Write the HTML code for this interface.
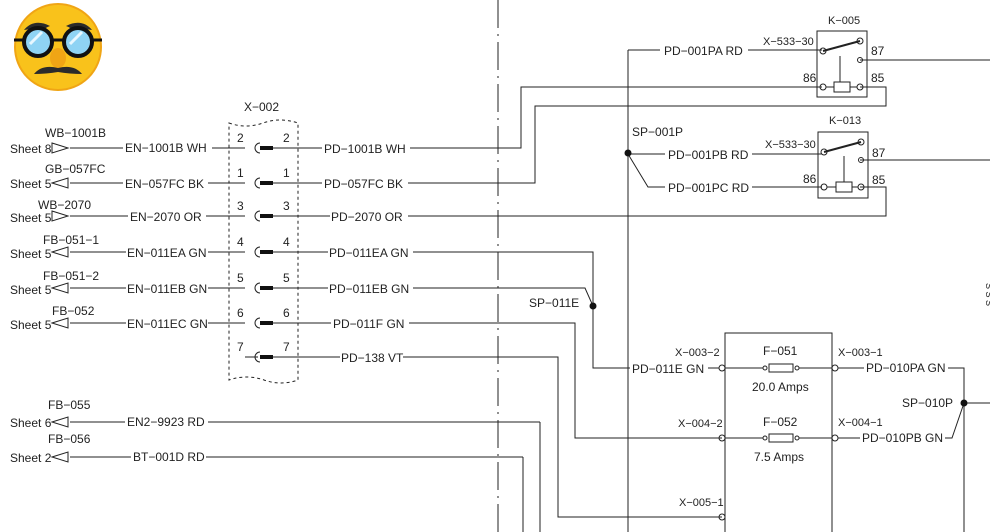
<!DOCTYPE html>
<html><head><meta charset="utf-8"><style>
html,body{margin:0;padding:0;background:#fff;}
svg{display:block;}
text{font-family:"Liberation Sans",sans-serif;font-size:12px;fill:#222;}
</style></head><body>
<svg width="990" height="532" viewBox="0 0 990 532" xmlns="http://www.w3.org/2000/svg">
<!-- emoji -->
<circle cx="58" cy="47" r="43" fill="#f9c21b"/>
<circle cx="58" cy="47" r="43" fill="none" stroke="#f0a515" stroke-width="2"/>
<path d="M24 30 q10 -12 26 -4 q-6 2 -8 6 q-8 -4 -18 -2z" fill="#2b2b2b"/>
<path d="M92 30 q-10 -12 -26 -4 q6 2 8 6 q8 -4 18 -2z" fill="#2b2b2b"/>
<ellipse cx="58" cy="58" rx="8" ry="10" fill="#f0a515"/>
<circle cx="38" cy="42" r="14" fill="#8fd3f4" stroke="#111" stroke-width="4"/>
<circle cx="78" cy="42" r="14" fill="#8fd3f4" stroke="#111" stroke-width="4"/>
<line x1="30" y1="44" x2="42" y2="32" stroke="#e8f7ff" stroke-width="3"/>
<line x1="70" y1="44" x2="82" y2="32" stroke="#e8f7ff" stroke-width="3"/>
<line x1="52" y1="40" x2="64" y2="40" stroke="#111" stroke-width="3"/>
<line x1="14" y1="40" x2="24" y2="40" stroke="#111" stroke-width="3"/>
<line x1="92" y1="40" x2="102" y2="40" stroke="#111" stroke-width="3"/>
<path d="M34 74 q8 -10 24 -6 q16 -4 24 6 q-12 0 -24 -2 q-12 2 -24 2z" fill="#2b2b2b"/>

<g stroke="#222" stroke-width="1" fill="none">
<!-- dash-dot vertical -->
<line x1="498" y1="0" x2="498" y2="532" stroke-dasharray="28,6,2,6"/>
<!-- X-002 dashed box -->
<path d="M229 123 q17 6 34 0 t35 0 V380 q-17 6 -34 0 t-35 0 Z" stroke-dasharray="3,3"/>
</g>
<text x="244" y="111">X−002</text>

<!-- left rows -->
<g stroke="#222" stroke-width="1" fill="none">
<!-- rows: wires from arrow to text, text to pin -->
<line x1="70" y1="148" x2="123" y2="148"/><line x1="212" y1="148" x2="245" y2="148"/>
<line x1="70" y1="183" x2="123" y2="183"/><line x1="208" y1="183" x2="245" y2="183"/>
<line x1="70" y1="216" x2="128" y2="216"/><line x1="206" y1="216" x2="245" y2="216"/>
<line x1="70" y1="252" x2="126" y2="252"/><line x1="208" y1="252" x2="245" y2="252"/>
<line x1="70" y1="288" x2="126" y2="288"/><line x1="208" y1="288" x2="245" y2="288"/>
<line x1="70" y1="323" x2="126" y2="323"/><line x1="208" y1="323" x2="245" y2="323"/>
<line x1="70" y1="422" x2="125" y2="422"/><line x1="208" y1="422" x2="540" y2="422"/><line x1="540" y1="422" x2="540" y2="532"/>
<line x1="70" y1="457" x2="131" y2="457"/><line x1="206" y1="457" x2="523" y2="457"/><line x1="523" y1="457" x2="523" y2="532"/>
<!-- arrows -->
<path d="M52 143 L68 148 L52 153 Z"/><path d="M52 211 L68 216 L52 221 Z"/>
<path d="M52 183 L68 178 L68 188 Z"/><path d="M52 252 L68 247 L68 257 Z"/>
<path d="M52 288 L68 283 L68 293 Z"/><path d="M52 323 L68 318 L68 328 Z"/>
<path d="M52 422 L68 417 L68 427 Z"/><path d="M52 457 L68 452 L68 462 Z"/>
</g>
<g>
<text x="10" y="153">Sheet 8</text><text x="45" y="137">WB−1001B</text><text x="125" y="152">EN−1001B WH</text>
<text x="10" y="188">Sheet 5</text><text x="45" y="173">GB−057FC</text><text x="125" y="188">EN−057FC BK</text>
<text x="10" y="222">Sheet 5</text><text x="38" y="209">WB−2070</text><text x="130" y="221">EN−2070 OR</text>
<text x="10" y="258">Sheet 5</text><text x="43" y="244">FB−051−1</text><text x="127" y="257">EN−011EA GN</text>
<text x="10" y="294">Sheet 5</text><text x="43" y="280">FB−051−2</text><text x="127" y="293">EN−011EB GN</text>
<text x="10" y="329">Sheet 5</text><text x="52" y="315">FB−052</text><text x="127" y="328">EN−011EC GN</text>
<text x="10" y="427">Sheet 6</text><text x="48" y="409">FB−055</text><text x="127" y="426">EN2−9923 RD</text>
<text x="10" y="462">Sheet 2</text><text x="48" y="443">FB−056</text><text x="133" y="461">BT−001D RD</text>
</g>

<!-- connector pins -->
<g stroke="#222" fill="none">
<g id="pins">
<path d="M260 143 a5 5 0 0 0 0 10"/><rect x="260" y="146" width="13" height="4" fill="#111" stroke="none"/><line x1="273" y1="148" x2="322" y2="148"/>
<path d="M260 178 a5 5 0 0 0 0 10"/><rect x="260" y="181" width="13" height="4" fill="#111" stroke="none"/><line x1="273" y1="183" x2="322" y2="183"/>
<path d="M260 211 a5 5 0 0 0 0 10"/><rect x="260" y="214" width="13" height="4" fill="#111" stroke="none"/><line x1="273" y1="216" x2="330" y2="216"/>
<path d="M260 247 a5 5 0 0 0 0 10"/><rect x="260" y="250" width="13" height="4" fill="#111" stroke="none"/><line x1="273" y1="252" x2="328" y2="252"/>
<path d="M260 283 a5 5 0 0 0 0 10"/><rect x="260" y="286" width="13" height="4" fill="#111" stroke="none"/><line x1="273" y1="288" x2="328" y2="288"/>
<path d="M260 318 a5 5 0 0 0 0 10"/><rect x="260" y="321" width="13" height="4" fill="#111" stroke="none"/><line x1="273" y1="323" x2="331" y2="323"/>
<path d="M260 352 a5 5 0 0 0 0 10"/><rect x="260" y="355" width="13" height="4" fill="#111" stroke="none"/><line x1="258" y1="357" x2="245" y2="357"/><line x1="273" y1="357" x2="340" y2="357"/>
</g>
</g>
<g style="font-size:11px">
<text x="237" y="142">2</text><text x="283" y="142">2</text>
<text x="237" y="177">1</text><text x="283" y="177">1</text>
<text x="237" y="210">3</text><text x="283" y="210">3</text>
<text x="237" y="246">4</text><text x="283" y="246">4</text>
<text x="237" y="282">5</text><text x="283" y="282">5</text>
<text x="237" y="317">6</text><text x="283" y="317">6</text>
<text x="237" y="351">7</text><text x="283" y="351">7</text>
</g>

<!-- PD wires -->
<g>
<text x="324" y="153">PD−1001B WH</text>
<text x="324" y="188">PD−057FC BK</text>
<text x="331" y="221">PD−2070 OR</text>
<text x="329" y="257">PD−011EA GN</text>
<text x="329" y="293">PD−011EB GN</text>
<text x="333" y="328">PD−011F GN</text>
<text x="341" y="362">PD−138 VT</text>
</g>
<g stroke="#222" stroke-width="1" fill="none">
<polyline points="410,148 521,148 521,87 822,87"/>
<polyline points="408,183 535,183 535,106 886,106 886,87 860,87"/>
<polyline points="408,216 886,216 886,187 860,187"/>
<polyline points="413,252 593,252 593,306"/>
<polyline points="413,288 585,288 593,306"/>
<polyline points="593,306 593,368 630,368"/>
<polyline points="409,323 575,323 575,438 722,438"/>
<polyline points="403,357 558,357 558,517 722,517"/>
<!-- SP-001P trunk -->
<line x1="628" y1="50" x2="628" y2="532"/>
<line x1="628" y1="50" x2="660" y2="50"/><line x1="748" y1="50" x2="822" y2="50"/>
<line x1="628" y1="154" x2="665" y2="154"/><line x1="752" y1="154" x2="822" y2="154"/>
<polyline points="628,154 648,187 665,187"/><line x1="752" y1="187" x2="822" y2="187"/>
<!-- relays -->
<rect x="817" y="31" width="50" height="66"/>
<rect x="818" y="132" width="50" height="66"/>
<line x1="860" y1="60" x2="990" y2="60"/>
<line x1="860" y1="160" x2="990" y2="160"/>
<!-- K-005 internals -->
<circle cx="823" cy="51" r="3"/><circle cx="860" cy="41" r="3"/><line x1="823" y1="51" x2="860" y2="41" stroke-width="2"/>
<circle cx="860" cy="60" r="2.5"/><line x1="840" y1="56" x2="840" y2="82"/>
<circle cx="823" cy="87" r="3"/><circle cx="860" cy="87" r="3"/><rect x="834" y="82" width="16" height="10"/>
<line x1="826" y1="87" x2="834" y2="87"/><line x1="850" y1="87" x2="857" y2="87"/>
<!-- K-013 internals -->
<circle cx="824" cy="152" r="3"/><circle cx="861" cy="142" r="3"/><line x1="824" y1="152" x2="861" y2="142" stroke-width="2"/>
<circle cx="861" cy="160" r="2.5"/><line x1="844" y1="156" x2="844" y2="182"/>
<circle cx="824" cy="187" r="3"/><circle cx="861" cy="187" r="3"/><rect x="836" y="182" width="16" height="10"/>
<line x1="827" y1="187" x2="836" y2="187"/><line x1="852" y1="187" x2="858" y2="187"/>
<!-- fuse box -->
<rect x="725" y="333" width="107" height="210"/>
<circle cx="722" cy="368" r="3"/><circle cx="835" cy="368" r="3"/>
<circle cx="722" cy="438" r="3"/><circle cx="835" cy="438" r="3"/>
<circle cx="722" cy="517" r="3"/>
<line x1="708" y1="368" x2="719" y2="368"/>
<line x1="725" y1="368" x2="763" y2="368"/><circle cx="765" cy="368" r="2"/><rect x="769" y="364" width="24" height="8"/><circle cx="797" cy="368" r="2"/><line x1="799" y1="368" x2="832" y2="368"/>
<line x1="725" y1="438" x2="763" y2="438"/><circle cx="765" cy="438" r="2"/><rect x="769" y="434" width="24" height="8"/><circle cx="797" cy="438" r="2"/><line x1="799" y1="438" x2="832" y2="438"/>
<line x1="838" y1="368" x2="864" y2="368"/><line x1="838" y1="438" x2="860" y2="438"/>
<polyline points="948,368 964,368 964,532"/>
<polyline points="945,438 952,438 964,403"/>
<line x1="964" y1="403" x2="990" y2="403"/>
</g>
<circle cx="628" cy="153" r="3.5" fill="#111"/>
<circle cx="593" cy="306" r="3.5" fill="#111"/>
<circle cx="964" cy="403" r="3.5" fill="#111"/>
<g>
<text x="664" y="55">PD−001PA RD</text>
<text x="763" y="45" style="font-size:11px">X−533−30</text>
<text x="828" y="24" style="font-size:11px">K−005</text>
<text x="871" y="55">87</text><text x="871" y="82">85</text><text x="803" y="82">86</text>
<text x="632" y="136">SP−001P</text>
<text x="668" y="159">PD−001PB RD</text>
<text x="765" y="148" style="font-size:11px">X−533−30</text>
<text x="829" y="124" style="font-size:11px">K−013</text>
<text x="872" y="157">87</text><text x="872" y="184">85</text><text x="803" y="183">86</text>
<text x="668" y="192">PD−001PC RD</text>
<text x="529" y="307">SP−011E</text>
<text x="632" y="373">PD−011E GN</text>
<text x="675" y="356" style="font-size:11px">X−003−2</text>
<text x="678" y="427" style="font-size:11px">X−004−2</text>
<text x="679" y="506" style="font-size:11px">X−005−1</text>
<text x="763" y="355">F−051</text><text x="752" y="391">20.0 Amps</text>
<text x="763" y="426">F−052</text><text x="754" y="461">7.5 Amps</text>
<text x="838" y="356" style="font-size:11px">X−003−1</text>
<text x="838" y="426" style="font-size:11px">X−004−1</text>
<text x="866" y="372">PD−010PA GN</text>
<text x="862" y="442">PD−010PB GN</text>
<text x="902" y="407">SP−010P</text>
<text x="0" y="0" transform="translate(986,283) rotate(90)" style="font-size:9px">S  S  S</text>
</g>
</svg>
</body></html>
